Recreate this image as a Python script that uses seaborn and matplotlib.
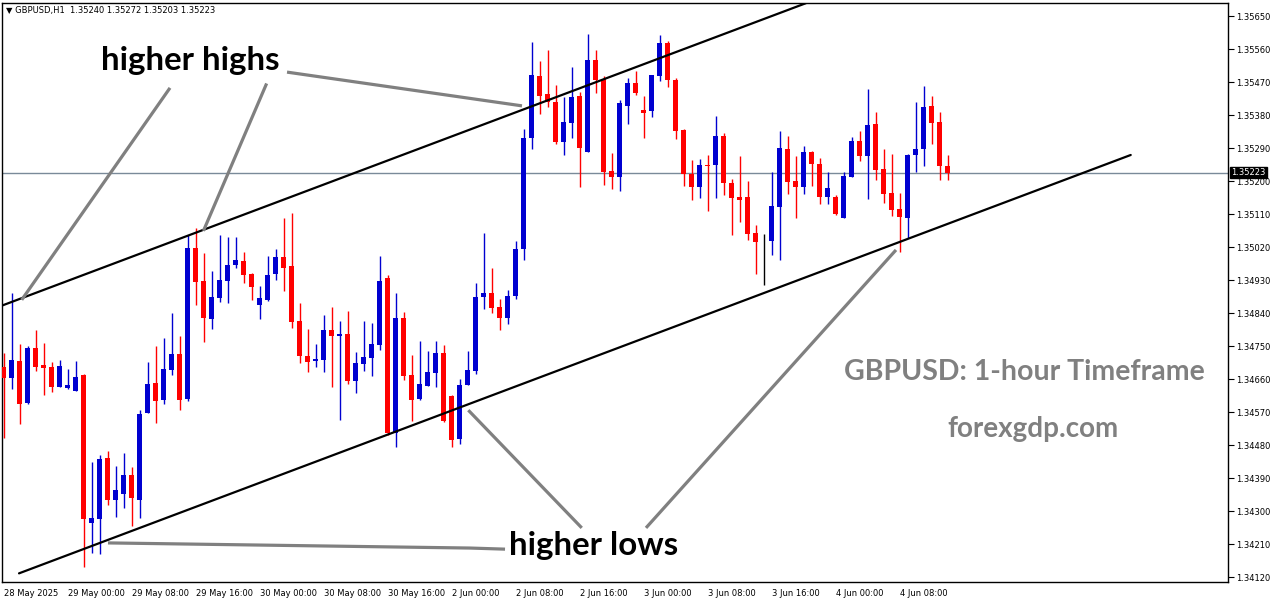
import matplotlib
matplotlib.use("Agg")
import matplotlib.pyplot as plt
import matplotlib.transforms as mtransforms
import numpy as np
import pandas as pd
import seaborn as sns

# ---------------- data (GBPUSD H1, 28 May 16:00 -> 4 Jun 14:00) ----------------
opens = [1.34692,1.34664,1.34709,1.34595,1.34745,1.34698,1.34693,1.34639,1.34636,1.34628,
         1.34671,1.34268,1.34279,1.34444,1.34331,1.34347,1.34398,1.34331,1.34568,1.34649,
         1.34604,1.34685,1.34728,1.34606,1.35017,1.34927,1.34824,1.34882,1.34928,1.34972,
         1.34982,1.34946,1.34863,1.34876,1.34947,1.34993,1.34968,1.34818,1.34723,1.34710,
         1.34713,1.34794,1.34778,1.34783,1.34655,1.34702,1.34718,1.34753,1.34935,1.34514,
         1.34826,1.34671,1.34606,1.34642,1.34677,1.34731,1.34614,1.34497,1.34645,1.34683,
         1.34885,1.34895,1.34857,1.34827,1.34887,1.35015,1.35316,1.35487,1.35438,1.35416,
         1.35307,1.35359,1.35433,1.35280,1.35530,1.35478,1.35228,1.35212,1.35405,1.35467,
         1.35394,1.35392,1.35487,1.35576,1.35476,1.35340,1.35220,1.35184,1.35244,1.35244,
         1.35323,1.35195,1.35157,1.35157,1.35059,1.35038,1.35037,1.35130,1.35287,1.35200,
         1.35184,1.35279,1.35246,1.35157,1.35157,1.35100,1.35212,1.35309,1.35269,1.35355,
         1.35233,1.35167,1.35124,1.35100,1.35271,1.35287,1.35405,1.35361,1.35240]
highs = [1.34732,1.34894,1.34755,1.34750,1.34794,1.34758,1.34706,1.34712,1.34687,1.34709,
         1.34674,1.34434,1.34453,1.34464,1.34423,1.34458,1.34420,1.34575,1.34706,1.34750,
         1.34772,1.34840,1.34777,1.35054,1.35072,1.35004,1.34955,1.35053,1.35047,1.35047,
         1.35006,1.34948,1.34914,1.34995,1.35015,1.35099,1.35113,1.34867,1.34796,1.34755,
         1.34835,1.34856,1.34818,1.34846,1.34734,1.34818,1.34813,1.34995,1.34944,1.34895,
         1.34843,1.34726,1.34764,1.34736,1.34764,1.34753,1.34616,1.34660,1.34736,1.34922,
         1.35059,1.34963,1.34879,1.34904,1.35037,1.35343,1.35579,1.35527,1.35557,1.35462,
         1.35430,1.35511,1.35444,1.35601,1.35557,1.35486,1.35277,1.35422,1.35481,1.35500,
         1.35432,1.35489,1.35598,1.35582,1.35481,1.35342,1.35258,1.35261,1.35272,1.35378,
         1.35332,1.35206,1.35269,1.35201,1.35081,1.35056,1.35225,1.35336,1.35323,1.35268,
         1.35295,1.35282,1.35263,1.35225,1.35162,1.35225,1.35320,1.35336,1.35451,1.35388,
         1.35287,1.35274,1.35167,1.35274,1.35415,1.35459,1.35432,1.35388,1.35272]
lows = [1.34498,1.34632,1.34538,1.34593,1.34683,1.34617,1.34625,1.34637,1.34634,1.34626,
        1.34148,1.34186,1.34183,1.34317,1.34284,1.34309,1.34260,1.34282,1.34566,1.34541,
        1.34593,1.34672,1.34576,1.34601,1.34863,1.34762,1.34797,1.34871,1.34868,1.34964,
        1.34923,1.34876,1.34824,1.34874,1.34930,1.34901,1.34800,1.34705,1.34680,1.34694,
        1.34680,1.34639,1.34549,1.34647,1.34623,1.34683,1.34669,1.34740,1.34508,1.34475,
        1.34658,1.34546,1.34604,1.34640,1.34639,1.34544,1.34475,1.34484,1.34643,1.34674,
        1.34852,1.34841,1.34795,1.34811,1.34879,1.34985,1.35288,1.35384,1.35403,1.35302,
        1.35272,1.35318,1.35184,1.35278,1.35441,1.35190,1.35179,1.35173,1.35356,1.35435,
        1.35318,1.35375,1.35474,1.35457,1.35315,1.35187,1.35149,1.35154,1.35119,1.35154,
        1.35163,1.35054,1.35089,1.35040,1.34947,1.34917,1.34998,1.34985,1.35165,1.35100,
        1.35165,1.35186,1.35138,1.35138,1.35108,1.35098,1.35210,1.35255,1.35152,1.35203,
        1.35141,1.35105,1.35007,1.35045,1.35225,1.35242,1.35302,1.35203,1.35203]
closes = [1.34664,1.34712,1.34593,1.34745,1.34694,1.34691,1.34639,1.34695,1.34644,1.34665,
          1.34279,1.34281,1.34442,1.34331,1.34357,1.34398,1.34336,1.34565,1.34646,1.34601,
          1.34687,1.34728,1.34604,1.35017,1.34925,1.34827,1.34884,1.34930,1.34971,1.34985,
          1.34944,1.34912,1.34881,1.34944,1.34993,1.34964,1.34816,1.34724,1.34707,1.34715,
          1.34794,1.34778,1.34783,1.34655,1.34704,1.34720,1.34755,1.34927,1.34512,1.34826,
          1.34669,1.34604,1.34646,1.34679,1.34731,1.34546,1.34494,1.34644,1.34685,1.34884,
          1.34895,1.34855,1.34827,1.34887,1.35015,1.35318,1.35490,1.35433,1.35416,1.35307,
          1.35362,1.35430,1.35291,1.35530,1.35476,1.35225,1.35212,1.35414,1.35467,1.35441,
          1.35386,1.35489,1.35576,1.35476,1.35337,1.35220,1.35184,1.35244,1.35241,1.35323,
          1.35195,1.35154,1.35149,1.35056,1.35034,1.35038,1.35132,1.35290,1.35198,1.35184,
          1.35279,1.35247,1.35157,1.35181,1.35110,1.35214,1.35309,1.35269,1.35353,1.35231,
          1.35165,1.35122,1.35103,1.35271,1.35287,1.35402,1.35359,1.35242,1.35223]

tick_bars = [0, 8, 16, 24, 32, 40, 48, 56, 64, 72, 80, 88, 96, 104, 112]
tick_labels = ["28 May 2025", "29 May 00:00", "29 May 08:00", "29 May 16:00",
               "30 May 00:00", "30 May 08:00", "30 May 16:00", "2 Jun 00:00",
               "2 Jun 08:00", "2 Jun 16:00", "3 Jun 00:00", "3 Jun 08:00",
               "3 Jun 16:00", "4 Jun 00:00", "4 Jun 08:00"]
price_ticks = [1.35650, 1.35560, 1.35470, 1.35380, 1.35290, 1.35200, 1.35110, 1.35020,
               1.34930, 1.34840, 1.34750, 1.34660, 1.34570, 1.34480, 1.34390, 1.34300,
               1.34210, 1.34120]
current_price = 1.35223

# channel lines (bar index, price)
upper_line_x = [-0.1, 100.3]
upper_line_y = [1.34861, 1.35685]
lower_line_x = [1.94, 140.9]
lower_line_y = [1.34130, 1.35271]

# annotation pointer lines (bar index, price)
pointer_lines = [
    ([20.81, 2.28], [1.35454, 1.34876]),
    ([32.89, 24.99], [1.35466, 1.35064]),
    ([35.44, 64.81], [1.35497, 1.35405]),
    ([58.10, 72.28], [1.34575, 1.34254]),
    ([80.31, 111.56], [1.34254, 1.35012]),
    ([13.06, 58.31, 62.69], [1.34213, 1.34199, 1.34196]),
]

df = pd.DataFrame({"bar": np.arange(len(opens)), "open": opens, "high": highs,
                   "low": lows, "close": closes})

# ---------------- figure ----------------
sns.set_style("white", {"axes.edgecolor": "black"})
plt.rcParams["font.family"] = ["DejaVu Sans"]

W, H = 1276, 604
fig = plt.figure(figsize=(W / 100, H / 100), dpi=100)
ax = fig.add_axes([2 / W, (H - 582) / H, 1226 / W, 579 / H])

def colour(o, c):
    if c > o:
        return "#0000D0"
    if c < o:
        return "#FF0000"
    return "black"

cols = [colour(o, c) for o, c in zip(df["open"], df["close"])]
ax.vlines(df["bar"], df["low"], df["high"], colors=cols, linewidth=1.0, zorder=2)
body_bottom = np.minimum(df["open"], df["close"])
body_h = np.maximum(np.abs(df["close"] - df["open"]), 0.000012)
ax.bar(df["bar"], body_h, bottom=body_bottom, width=0.62, color=cols,
       linewidth=0, zorder=3)

# current price line
ax.axhline(current_price, color="#7A8A99", linewidth=1.0, zorder=1)

# channel lines
sns.lineplot(x=upper_line_x, y=upper_line_y, ax=ax, color="black", linewidth=1.6,
             zorder=4, estimator=None, sort=False)
sns.lineplot(x=lower_line_x, y=lower_line_y, ax=ax, color="black", linewidth=1.6,
             zorder=4, estimator=None, sort=False)

for xs, ys in pointer_lines:
    ax.plot(xs, ys, color="#808080", linewidth=2.3, zorder=5, solid_capstyle="butt")

# labels
ax.text(23.4, 1.35530, "higher highs", fontsize=23.8, fontweight="bold",
        family=["Lato", "DejaVu Sans"], color="black", ha="center", va="center", zorder=6)
ax.text(73.7, 1.34207, "higher lows", fontsize=23.8, fontweight="bold",
        family=["Lato", "DejaVu Sans"], color="black", ha="center", va="center", zorder=6)
ax.text(127.6, 1.34679, "GBPUSD: 1-hour Timeframe", fontsize=20.5, fontweight="bold",
        family=["Lato", "DejaVu Sans"], color="#808080", ha="center", va="center", zorder=6)
ax.text(128.7, 1.34524, "forexgdp.com", fontsize=20, fontweight="bold",
        family=["Lato", "DejaVu Sans"], color="#808080", ha="center", va="center", zorder=6)

# axes
ax.set_xlim(-0.1875, 153.06)
ax.set_ylim(1.341064, 1.356855)
ax.yaxis.tick_right()
ax.set_yticks(price_ticks)
ax.set_yticklabels([f"{p:.5f}" for p in price_ticks])
ax.set_xticks(tick_bars)
ax.set_xticklabels(tick_labels, ha="left")
ax.tick_params(axis="both", direction="out", length=4, width=0.8, labelsize=6,
               colors="black", pad=2)
ax.tick_params(axis="x", pad=1)
ax.set_xlabel("")
ax.set_ylabel("")
for s in ax.spines.values():
    s.set_color("black")
    s.set_linewidth(1.0)
ax.grid(False)

# current price tag on axis
trans = mtransforms.blended_transform_factory(ax.transAxes, ax.transData)
ax.text(1.0025, current_price, f"{current_price:.5f}", transform=trans, fontsize=6,
        color="white", ha="left", va="center", zorder=10, clip_on=False,
        bbox=dict(boxstyle="square,pad=0.15", facecolor="black", edgecolor="black"))

# header
fig.text(6 / W, 1 - 10 / H, "\u25bc GBPUSD,H1  1.35240 1.35272 1.35203 1.35223",
         fontsize=6, color="black", ha="left", va="center")

fig.savefig("out.png", dpi=100)
